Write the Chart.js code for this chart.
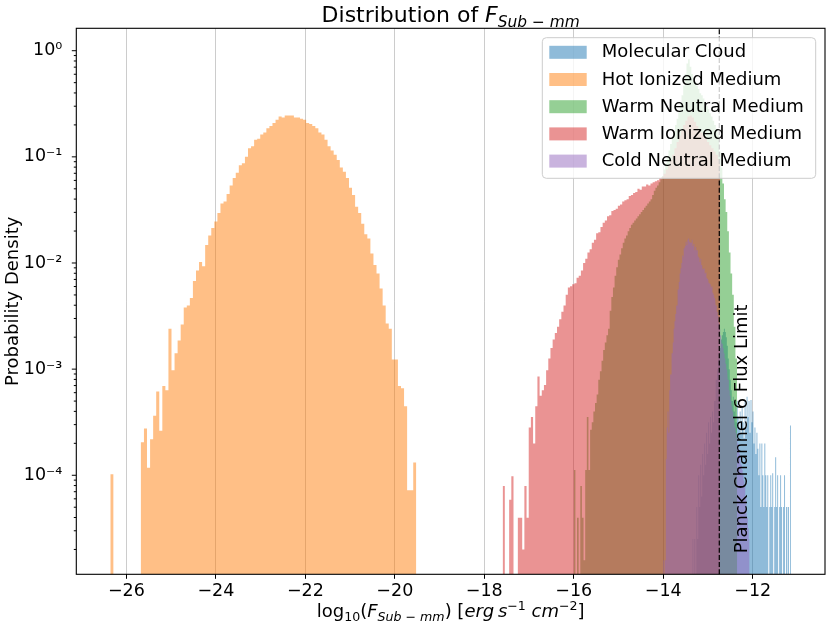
<!DOCTYPE html>
<html lang="en">
<head>
<meta charset="UTF-8">
<title>Distribution of F_Sub-mm</title>
<style>
    body { margin: 0; background: #fff; }
    .wrap { width: 831px; height: 629px; }
</style>
</head>
<body>
<div class="wrap"><canvas id="histChart"></canvas></div>

<script src="https://cdn.jsdelivr.net/npm/chart.js"></script>
<script>
// ---- data (log10 of probability density per bin, null = empty bin) ----
const seriesNames = ['Molecular Cloud', 'Hot Ionized Medium', 'Warm Neutral Medium', 'Warm Ionized Medium', 'Cold Neutral Medium'];

// first and last bin edge of each histogram (100 bins each)
const mcRange  = [-13.35, -11.145];
const himRange = [-26.36, -19.52];
const wnmRange = [-16.0, -12.35];
const wimRange = [-17.59, -12.73];
const cnmRange = [-14.0, -12.07];

const mcLog = [
    -4.6, null, -4.6, null, -4.3, -4.6, -4.0, -4.3, -3.9, -4.2,
    -3.8, -4.0, -3.7, -3.9, -3.6, -3.8, -3.5, -3.7, -3.45, -3.6,
    -3.4, -3.5, -3.3, -3.2, -3.1, -3.0, -2.9, -2.85, -2.8, -2.72,
    -2.68, -2.65, -2.62, -2.65, -2.70, -2.78, -2.90, -3.00, -3.10, -3.20,
    -3.30, -3.26, -3.40, -3.35, -3.50, -3.30, -3.45, -3.55, -3.40, -3.60,
    -3.35, -3.50, -3.65, -3.30, -3.55, -3.26, -3.45, -3.30, -3.60, -3.29,
    -3.50, -3.40, -3.70, -3.55, -3.80, -3.60, -3.75, -4.00, -3.70, -4.30,
    -3.70, -4.00, -4.30, -3.70, -4.00, -4.30, -4.00, null, -4.30, -4.00,
    -4.30, -3.98, null, -4.30, -3.83, -4.30, -4.00, null, -4.30, -4.00,
    -4.30, null, -4.30, -4.00, null, -4.30, null, -4.30, null, -3.53
];
const himLog = [
    -3.99, null, null, null, null, null, null, null, null, null,
    -3.69, -3.56, -3.93, -3.66, -3.44, -3.21, -3.58, -3.16, -3.20, -2.62,
    -3.01, -2.85, -2.73, -2.58, -2.42, -2.40, -2.33, -2.17, -2.07, -1.99,
    -2.03, -1.83, -1.74, -1.67, -1.61, -1.53, -1.44, -1.42, -1.35, -1.27,
    -1.20, -1.15, -1.08, -1.06, -1.00, -0.92, -0.90, -0.84, -0.83, -0.79,
    -0.77, -0.73, -0.71, -0.68, -0.65, -0.62, -0.63, -0.61, -0.61, -0.61,
    -0.63, -0.63, -0.64, -0.65, -0.68, -0.69, -0.71, -0.73, -0.77, -0.79,
    -0.84, -0.90, -0.94, -0.98, -1.03, -1.10, -1.14, -1.20, -1.29, -1.36,
    -1.47, -1.53, -1.63, -1.73, -1.77, -1.91, -2.02, -2.10, -2.24, -2.40,
    -2.57, -2.62, -2.91, -2.91, -3.16, -3.18, -3.35, -4.14, -4.14, -3.88
];
const wnmLog = [
    -3.95, null, -4.40, null, -4.10, -4.40, -4.80, -3.95, -3.45, -3.95,
    -3.57, -3.50, -3.40, -3.32, -3.24, -3.10, -3.02, -2.92, -2.82, -2.75,
    -2.68, -2.62, -2.45, -2.32, -2.23, -2.12, -2.04, -1.97, -1.92, -1.86,
    -1.81, -1.77, -1.74, -1.70, -1.67, -1.64, -1.62, -1.60, -1.58, -1.56,
    -1.54, -1.52, -1.50, -1.48, -1.46, -1.44, -1.42, -1.40, -1.36, -1.32,
    -1.29, -1.27, -1.24, -1.21, -1.18, -1.12, -1.06, -1.00, -0.94, -0.88,
    -0.82, -0.76, -0.70, -0.64, -0.58, -0.50, -0.42, -0.33, -0.22, -0.12,
    -0.08, -0.15, -0.22, -0.28, -0.30, -0.33, -0.36, -0.40, -0.42, -0.45,
    -0.48, -0.52, -0.55, -0.59, -0.62, -0.66, -0.70, -0.74, -0.80, -0.95,
    -1.10, -1.25, -1.40, -1.52, -1.70, -1.90, -2.10, -2.30, -2.60, -2.90
];
const wimLog = [
    -4.10, null, null, -4.23, -4.01, null, null, -4.40, -4.40, -4.70,
    -4.10, -4.40, -3.55, -3.45, -3.70, -3.35, -3.07, -3.25, -3.20, -3.15,
    -3.01, -2.90, -2.80, -2.72, -2.66, -2.60, -2.53, -2.46, -2.40, -2.30,
    -2.23, -2.22, -2.20, -2.19, -2.14, -2.12, -2.07, -2.00, -1.96, -1.90,
    -1.87, -1.81, -1.78, -1.72, -1.71, -1.66, -1.62, -1.60, -1.56, -1.55,
    -1.51, -1.50, -1.49, -1.46, -1.45, -1.42, -1.41, -1.40, -1.37, -1.36,
    -1.34, -1.33, -1.30, -1.31, -1.28, -1.28, -1.26, -1.27, -1.25, -1.24,
    -1.23, -1.22, -1.20, -1.19, -1.16, -1.12, -1.08, -1.03, -0.98, -0.92,
    -0.86, -0.80, -0.75, -0.70, -0.66, -0.62, -0.61, -0.63, -0.67, -0.71,
    -0.74, -0.77, -0.80, -0.83, -0.86, -0.89, -0.92, -0.95, -0.98, -1.02
];
const cnmLog = [
    -4.80, null, -4.80, -3.85, -3.55, -3.40, -3.60, -3.20, -3.05, -2.95,
    -2.85, -2.75, -2.62, -2.55, -2.48, -2.40, -2.35, -2.25, -2.18, -2.10,
    -2.05, -2.00, -1.93, -1.97, -1.86, -1.84, -1.80, -1.83, -1.78, -1.77,
    -1.80, -1.76, -1.81, -1.78, -1.84, -1.82, -1.88, -1.85, -1.90, -1.88,
    -1.94, -1.95, -1.99, -1.96, -2.02, -2.03, -2.06, -2.05, -2.10, -2.09,
    -2.14, -2.15, -2.13, -2.19, -2.20, -2.23, -2.22, -2.28, -2.30, -2.33,
    -2.36, -2.40, -2.46, -2.50, -2.56, -2.62, -2.68, -2.72, -2.76, -2.80,
    -2.85, -2.90, -2.95, -3.00, -3.05, -3.10, -3.20, -3.25, -3.30, -3.35,
    -3.40, -3.45, -3.50, -3.55, -3.60, -3.65, -3.70, -3.75, -3.80, -3.85,
    -3.90, -3.95, -4.00, -4.05, -4.10, -4.20, -4.30, -4.40, -4.50, -4.60
];

const fluxLimit = -12.747;              // Planck channel 6 limit (x value)
const fluxLabel = 'Planck Channel 6 Flux Limit';
const xTicks = [-26, -24, -22, -20, -18, -16, -14, -12];
const xMin = -27.12, xMax = -10.384;
const yMin = 1.167e-5, yMax = 1.626;

// ---- helpers ----
const FONT = 'DejaVu Sans';
const colors = ['rgba(31,119,180,0.5)', 'rgba(255,127,14,0.5)', 'rgba(44,160,44,0.5)',
                'rgba(214,39,40,0.5)', 'rgba(148,103,189,0.5)'];
const ranges = [mcRange, himRange, wnmRange, wimRange, cnmRange];
const logs = [mcLog, himLog, wnmLog, wimLog, cnmLog];
const BELOW_AXIS = 1e-9; // empty bins drop below the visible y range

function histPoints(range, logDensity) {
    const n = logDensity.length;
    const w = (range[1] - range[0]) / n;
    const pts = [{x: range[0], y: BELOW_AXIS}];
    logDensity.forEach((v, i) => {
        const y = v === null ? BELOW_AXIS : Math.pow(10, v);
        pts.push({x: range[0] + i * w, y: y}, {x: range[0] + (i + 1) * w, y: y});
    });
    pts.push({x: range[1], y: BELOW_AXIS});
    return pts;
}

function isDecade(v) {
    const e = Math.log10(v);
    return Math.abs(e - Math.round(e)) < 1e-6;
}

const SUP = {'-': '\u207B', '0': '\u2070', '1': '\u00B9', '2': '\u00B2', '3': '\u00B3', '4': '\u2074', '5': '\u2075'};
function decadeLabel(v) {
    const e = String(Math.round(Math.log10(v)));
    return '10' + e.split('').map(c => SUP[c]).join('');
}

function partFont(p, size) {
    return (p.it ? 'italic ' : '') + (size * (p.s || 1)).toFixed(2) + 'px "' + FONT + '"';
}

function drawRich(ctx, parts, cx, baseline, size) {
    let total = 0;
    parts.forEach(p => {
        ctx.font = partFont(p, size);
        p.w = ctx.measureText(p.t).width;
        total += p.w;
    });
    let x = cx - total / 2;
    ctx.textAlign = 'left';
    ctx.textBaseline = 'alphabetic';
    parts.forEach(p => {
        ctx.font = partFont(p, size);
        ctx.fillText(p.t, x, baseline + (p.dy || 0) * size);
        x += p.w;
    });
}

const titleParts = [
    {t: 'Distribution of '}, {t: 'F', it: 1},
    {t: 'Sub', it: 1, s: 0.7, dy: 0.22}, {t: ' \u2212 ', s: 0.7, dy: 0.22}, {t: 'mm', it: 1, s: 0.7, dy: 0.22}
];
const xLabelParts = [
    {t: 'log'}, {t: '10', s: 0.7, dy: 0.22}, {t: '('}, {t: 'F', it: 1},
    {t: 'Sub', it: 1, s: 0.7, dy: 0.22}, {t: ' \u2212 ', s: 0.7, dy: 0.22}, {t: 'mm', it: 1, s: 0.7, dy: 0.22},
    {t: ') ['}, {t: 'erg', it: 1}, {t: '\u2009'}, {t: 's', it: 1}, {t: '\u22121', s: 0.7, dy: -0.38},
    {t: ' '}, {t: 'cm', it: 1}, {t: '\u22122', s: 0.7, dy: -0.38}, {t: ']'}
];

function roundRect(ctx, x, y, w, h, r) {
    ctx.beginPath();
    ctx.moveTo(x + r, y);
    ctx.arcTo(x + w, y, x + w, y + h, r);
    ctx.arcTo(x + w, y + h, x, y + h, r);
    ctx.arcTo(x, y + h, x, y, r);
    ctx.arcTo(x, y, x + w, y, r);
    ctx.closePath();
}

// spines, minor ticks, limit line, legend, title and x label
const decorations = {
    id: 'decorations',
    afterDraw(chart) {
        const c = chart.ctx;
        const a = chart.chartArea;
        const xs = chart.scales.x, ys = chart.scales.y;
        c.save();

        // dashed limit line
        const lx = xs.getPixelForValue(fluxLimit);
        c.strokeStyle = '#000';
        c.lineWidth = 1.2;
        c.setLineDash([5, 2.2]);
        c.beginPath();
        c.moveTo(lx, a.bottom);
        c.lineTo(lx, a.top);
        c.stroke();
        c.setLineDash([]);

        // spines
        c.strokeStyle = '#000';
        c.lineWidth = 1.1;
        c.strokeRect(a.left, a.top, a.right - a.left, a.bottom - a.top);

        // y tick marks (major and minor)
        c.lineWidth = 1;
        ys.ticks.forEach(t => {
            const py = ys.getPixelForValue(t.value);
            const len = isDecade(t.value) ? 4.5 : 2.5;
            c.beginPath();
            c.moveTo(a.left - len, py);
            c.lineTo(a.left, py);
            c.stroke();
        });

        // rotated annotation
        c.fillStyle = '#000';
        c.font = '18px "' + FONT + '"';
        c.save();
        c.translate(lx + 28, a.bottom - 21);
        c.rotate(-Math.PI / 2);
        c.textAlign = 'left';
        c.textBaseline = 'alphabetic';
        c.fillText(fluxLabel, 0, 0);
        c.restore();

        // legend
        const bw = 273.4, bh = 140.6;
        const bx = a.right - 9.3 - bw, by = a.top + 9.4;
        roundRect(c, bx, by, bw, bh, 4);
        c.fillStyle = 'rgba(255,255,255,0.8)';
        c.fill();
        c.strokeStyle = '#cccccc';
        c.lineWidth = 1;
        c.stroke();
        c.font = '18px "' + FONT + '"';
        c.textBaseline = 'middle';
        c.textAlign = 'left';
        seriesNames.forEach((name, i) => {
            const ry = by + 14.6 + i * 27.2;
            c.fillStyle = colors[i];
            c.fillRect(bx + 7, ry - 6.5, 37.4, 13);
            c.fillStyle = '#000';
            c.fillText(name, bx + 59.4, ry + 0.5);
        });

        // title and x label with sub/superscripts
        c.fillStyle = '#000';
        const cx = (a.left + a.right) / 2;
        drawRich(c, titleParts, cx, 21.7, 22);
        drawRich(c, xLabelParts, cx, 617, 18);

        c.restore();
    }
};

Chart.defaults.font.family = FONT;
Chart.defaults.color = '#000';

const ctx = document.getElementById('histChart').getContext('2d');
new Chart(ctx, {
    type: 'line',
    data: {
        datasets: seriesNames.map((name, i) => ({
            label: name,
            data: histPoints(ranges[i], logs[i]),
            backgroundColor: colors[i],
            borderColor: 'rgba(0,0,0,0)',
            borderWidth: 0,
            pointRadius: 0,
            pointHoverRadius: 0,
            tension: 0,
            fill: 'start',
            order: seriesNames.length - i   // later series drawn on top, as in the original
        }))
    },
    options: {
        responsive: true,
        maintainAspectRatio: false,
        animation: false,
        events: [],
        layout: { padding: { top: 28.3, right: 6, bottom: 0, left: 0 } },
        plugins: {
            legend: { display: false },
            tooltip: { enabled: false },
            title: { display: false }
        },
        scales: {
            x: {
                type: 'linear',
                min: xMin,
                max: xMax,
                z: 1,
                afterBuildTicks: s => { s.ticks = xTicks.map(v => ({value: v})); },
                afterFit: s => { s.height = 54.7; },
                grid: { color: 'rgba(176,176,176,0.65)', lineWidth: 1, tickColor: '#000', tickLength: 4.5 },
                border: { display: false },
                ticks: {
                    font: { size: 17.5 },
                    color: '#000',
                    padding: 2,
                    maxRotation: 0,
                    autoSkip: false,
                    callback: v => (v < 0 ? '\u2212' : '') + Math.abs(v)
                }
            },
            y: {
                type: 'logarithmic',
                min: yMin,
                max: yMax,
                afterBuildTicks: s => {
                    const t = [];
                    for (let e = -5; e <= 0; e++) {
                        for (let k = 1; k <= 9; k++) {
                            const v = k * Math.pow(10, e);
                            if (v >= yMin && v <= yMax) t.push({value: v});
                        }
                    }
                    s.ticks = t;
                },
                afterFit: s => { s.width = 76.3; },
                grid: { display: false },
                border: { display: false },
                ticks: {
                    font: { size: 17.5 },
                    color: '#000',
                    padding: 6,
                    autoSkip: false,
                    callback: v => isDecade(v) ? decadeLabel(v) : ''
                },
                title: {
                    display: true,
                    text: 'Probability Density',
                    color: '#000',
                    font: { size: 18 },
                    padding: { top: 3, bottom: 0 }
                }
            }
        }
    },
    plugins: [decorations]
});
</script>
</body>
</html>
